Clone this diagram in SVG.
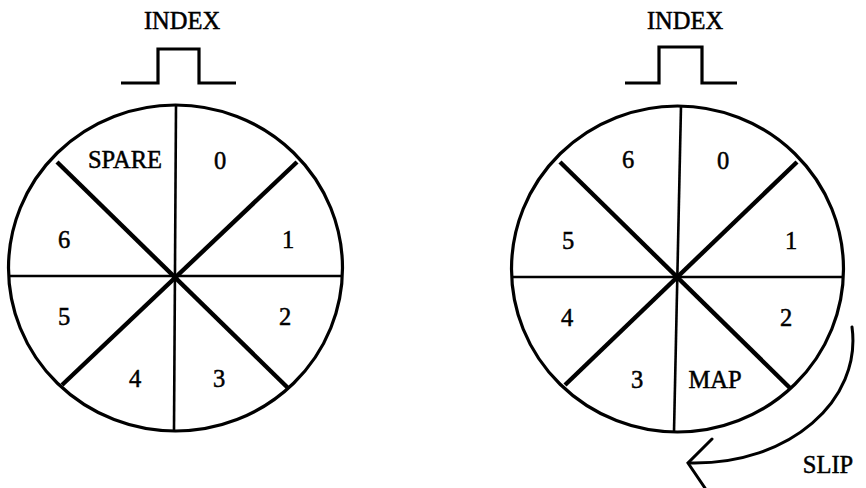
<svg xmlns="http://www.w3.org/2000/svg" width="866" height="488" viewBox="0 0 866 488">
<style>
.rim{fill:none;stroke:#000;stroke-width:3.2}
.hv{stroke:#000;stroke-width:2.6;fill:none}
.dg{stroke:#000;stroke-width:4.4;fill:none}
.pulse{fill:none;stroke:#000;stroke-width:3.2;stroke-linejoin:miter}
.arr{fill:none;stroke:#000;stroke-width:3;stroke-linecap:round}
text{font-family:"Liberation Serif","Times New Roman",serif;font-size:24.5px;fill:#000;stroke:#000;stroke-width:0.5;text-anchor:middle}
</style>
<rect width="866" height="488" fill="#fff"/>
<g id="left-disk">
  <ellipse class="rim" cx="175.5" cy="268" rx="167" ry="163"/>
  <line class="hv" x1="176" y1="106" x2="174" y2="430"/>
  <line class="hv" x1="9" y1="276" x2="342" y2="276"/>
  <line class="dg" x1="57" y1="162" x2="288" y2="388"/>
  <line class="dg" x1="297" y1="162" x2="62" y2="385"/>
  <text x="125" y="168">SPARE</text>
  <text x="220" y="169">0</text>
  <text x="288" y="248">1</text>
  <text x="285" y="325">2</text>
  <text x="219" y="387">3</text>
  <text x="135" y="387">4</text>
  <text x="64" y="325">5</text>
  <text x="64" y="248">6</text>
</g>
<g id="left-index">
  <text x="182" y="29">INDEX</text>
  <polyline class="pulse" points="121,83 158,83 158,49 199,49 199,83 236,83"/>
</g>
<g id="right-disk">
  <ellipse class="rim" cx="677.5" cy="269" rx="166" ry="163"/>
  <line class="hv" x1="681" y1="106" x2="674" y2="432"/>
  <line class="hv" x1="512" y1="277" x2="843" y2="277"/>
  <line class="dg" x1="560" y1="162" x2="790" y2="388"/>
  <line class="dg" x1="797" y1="162" x2="565" y2="385"/>
  <text x="628" y="168">6</text>
  <text x="723" y="169">0</text>
  <text x="791" y="249">1</text>
  <text x="786" y="326">2</text>
  <text x="637" y="388">3</text>
  <text x="567" y="326">4</text>
  <text x="568" y="249">5</text>
  <text x="715" y="388">MAP</text>
</g>
<g id="right-index">
  <text x="685" y="29">INDEX</text>
  <polyline class="pulse" points="625,83 659,83 659,47 702,47 702,83 737,83"/>
</g>
<g id="connectors">
  <path class="arr" d="M852,327 C862,400 790,465 690,463"/>
  <polyline class="arr" points="712,439 688,463 705,488"/>
</g>
<g id="slip-label">
  <text x="828" y="473">SLIP</text>
</g>
</svg>
